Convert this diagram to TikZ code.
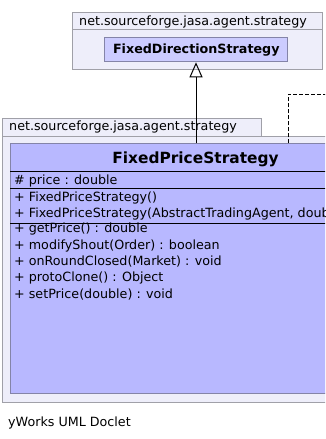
\documentclass[tikz,border=0pt]{standalone}
\usepackage{fontspec}
\setmainfont{DejaVu Sans}
\usetikzlibrary{arrows.meta}
\definecolor{pkgfill}{HTML}{EEEEFA}
\definecolor{pkgline}{HTML}{A0A0A8}
\definecolor{clsfill}{HTML}{B8B8FF}
\definecolor{clsline}{HTML}{8484A8}
\definecolor{refill}{HTML}{CCCCFF}
\tikzset{
  pkgbox/.style={draw=pkgline, fill=pkgfill, line width=1pt, inner sep=0pt},
  clsbox/.style={draw=clsline, fill=clsfill, line width=1pt, inner sep=0pt},
  refbox/.style={draw=clsline, fill=refill, line width=1pt, inner sep=0pt,
    font=\fontsize{12.7}{15}\selectfont\bfseries},
  txt/.style={inner sep=0pt, anchor=base west, font=\fontsize{12.7}{15}\selectfont},
  ttl/.style={inner sep=0pt, anchor=base, font=\fontsize{15.4}{18}\selectfont\bfseries},
  sep/.style={line width=1pt, black},
}
\begin{document}
\begin{tikzpicture}[x=1pt,y=-1pt]
\clip (0,0) rectangle (325,439);
\fill[white] (0,0) rectangle (325,439);

% upper package with the referenced class
\node[pkgbox, anchor=north west, minimum width=250pt, minimum height=17pt] (tabA) at (72,12) {};
\node[pkgbox, anchor=north west, minimum width=250pt, minimum height=40pt] (pkgA) at (72,29) {};
\node[txt] (tabAtxt) at (79,25) {net.sourceforge.jasa.agent.strategy};
\node[refbox, anchor=north west, minimum width=183pt, minimum height=24pt] (fds) at (104.3,37.3) {FixedDirectionStrategy};

% lower package with the class
\node[pkgbox, anchor=north west, minimum width=259pt, minimum height=18pt] (tabB) at (2.3,118.3) {};
\node[pkgbox, anchor=north west, minimum width=340pt, minimum height=266pt] (pkgB) at (2.3,135.7) {};
\node[txt] (tabBtxt) at (9,130.7) {net.sourceforge.jasa.agent.strategy};
\node[clsbox, anchor=north west, minimum width=371pt, minimum height=250pt] (fps) at (10,143.3) {};

\node[ttl] (title) at (195.5,163.5) {FixedPriceStrategy};
\draw[sep] (fps.west |- 0,171.7) coordinate (s1) -- (330,171.7);
\node[txt] (a1) at (14,184.3) {\#\ price : double};
\draw[sep] (fps.west |- 0,188.3) coordinate (s2) -- (330,188.3);
\node[txt] (c1) at (14,201.5) {+ FixedPriceStrategy()};
\node[txt] (c2) at (14,217.8) {+ FixedPriceStrategy(AbstractTradingAgent, double)};
\draw[sep] (fps.west |- 0,223.3) coordinate (s3) -- (330,223.3);
\node[txt] (m1) at (14,232.8) {+ getPrice() : double};
\node[txt] (m2) at (14,249.1) {+ modifyShout(Order) : boolean};
\node[txt] (m3) at (14,265.4) {+ onRoundClosed(Market) : void};
\node[txt] (m4) at (14,281.7) {+ protoClone() : Object};
\node[txt] (m5) at (14,298.0) {+ setPrice(double) : void};

% generalization
\draw[line width=1pt, -{Triangle[open, length=15pt, width=13pt, line width=1pt]}]
  (fps.north) -- (fps.north |- fds.south);

% realization / dependency going off to the right
\coordinate (dcorner) at (288.3,94.3);
\coordinate (dend) at (330,94.3);
\draw[line width=1pt, dash pattern=on 4pt off 2pt] (dcorner |- fps.north) -- (dcorner) -- (dend);

\node[txt] (doclet) at (8,426.5) {yWorks UML Doclet};
\end{tikzpicture}
\end{document}
